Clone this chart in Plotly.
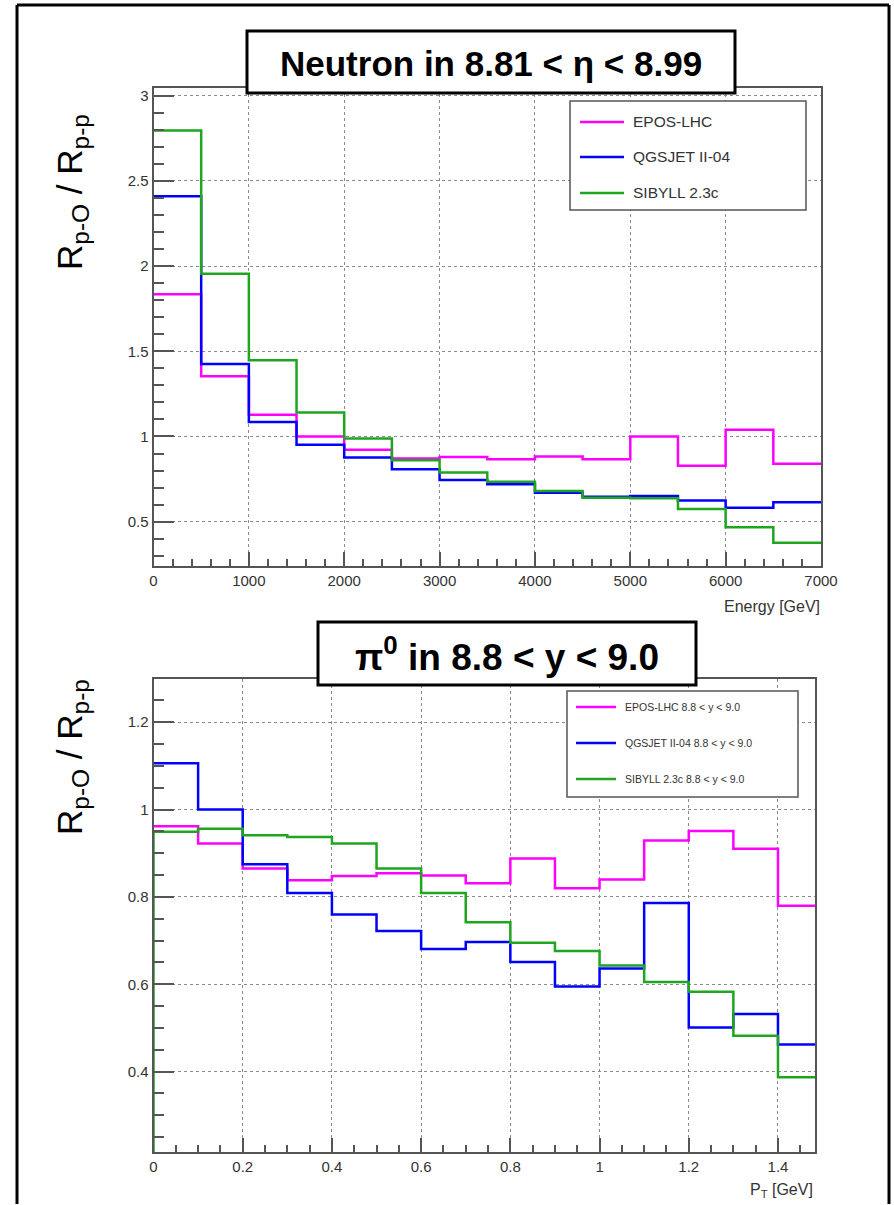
import plotly.graph_objects as go

W, H = 894, 1205

# ---------------- data ----------------
energy_edges = [0, 500, 1000, 1500, 2000, 2500, 3000, 3500, 4000, 4500, 5000, 5500, 6000, 6500, 7000]
epos_energy = [1.835, 1.353, 1.128, 1.0, 0.922, 0.871, 0.879, 0.867, 0.882, 0.867, 1.0, 0.829, 1.04, 0.84]
qgsjet_energy = [2.41, 1.426, 1.085, 0.951, 0.876, 0.808, 0.745, 0.72, 0.67, 0.647, 0.651, 0.624, 0.582, 0.614]
sibyll_energy = [2.795, 1.955, 1.447, 1.141, 0.988, 0.861, 0.788, 0.735, 0.68, 0.641, 0.638, 0.575, 0.467, 0.376]

pt_edges = [0, 0.1, 0.2, 0.3, 0.4, 0.5, 0.6, 0.7, 0.8, 0.9, 1.0, 1.1, 1.2, 1.3, 1.4, 1.5]
epos_pt = [0.962, 0.922, 0.865, 0.838, 0.848, 0.854, 0.849, 0.831, 0.888, 0.82, 0.84, 0.929, 0.951, 0.91, 0.78]
qgsjet_pt = [1.106, 1.0, 0.875, 0.809, 0.76, 0.722, 0.681, 0.697, 0.651, 0.595, 0.636, 0.786, 0.501, 0.532, 0.462]
sibyll_pt = [0.949, 0.956, 0.941, 0.937, 0.922, 0.865, 0.809, 0.742, 0.695, 0.676, 0.643, 0.605, 0.583, 0.482, 0.387]

names_top = ["EPOS-LHC", "QGSJET II-04", "SIBYLL 2.3c"]
names_bot = ["EPOS-LHC 8.8 < y < 9.0", "QGSJET II-04 8.8 < y < 9.0", "SIBYLL 2.3c 8.8 < y < 9.0"]
colors = ["#ff00ff", "#0000ff", "#1fa51f"]

# ---------------- helpers ----------------
def px(x):
    return x / W

def py(y):
    return 1 - y / H

fig = go.Figure()

def add_hist(edges, vals, color, xa, ya, from_base=None):
    xs = list(edges)
    ys = list(vals) + [vals[-1]]
    if from_base is not None:
        xs = [edges[0]] + xs
        ys = [from_base] + ys
    fig.add_trace(go.Scatter(x=xs, y=ys, mode="lines", line=dict(color=color, width=2.5, shape="hv"),
                             xaxis=xa, yaxis=ya, showlegend=False, hoverinfo="skip"))

for vals, c in zip([epos_energy, qgsjet_energy, sibyll_energy], colors):
    add_hist(energy_edges, vals, c, "x", "y")
for i, (vals, c) in enumerate(zip([epos_pt, qgsjet_pt, sibyll_pt], colors)):
    add_hist(pt_edges, vals, c, "x2", "y2", from_base=0 if i == 2 else None)

axis_col = "#555555"
tickfont = dict(family="Liberation Sans, Arial, sans-serif", size=15, color="#333333")
common = dict(showline=True, linecolor=axis_col, linewidth=2, mirror=True, ticks="inside",
              tickcolor=axis_col, tickwidth=1.5, showgrid=True, gridcolor="#8a8a8a", griddash="dot",
              gridwidth=1, zeroline=False, tickfont=tickfont, automargin=False)

fig.update_layout(
    width=W, height=H, margin=dict(l=0, r=0, t=0, b=0, autoexpand=False), autosize=False,
    paper_bgcolor="white", plot_bgcolor="white", showlegend=False,
    xaxis=dict(domain=[px(153.5), px(821)], range=[0, 7000], anchor="y", tick0=0, dtick=1000, ticklen=14,
               minor=dict(dtick=200, ticklen=7, ticks="inside", tickcolor=axis_col, showgrid=False), **common),
    yaxis=dict(domain=[py(566), py(88)], range=[0.24, 3.045], anchor="x", tick0=0, dtick=0.5, ticklen=20,
               minor=dict(dtick=0.1, ticklen=10, ticks="inside", tickcolor=axis_col, showgrid=False), **common),
    xaxis2=dict(domain=[px(153.5), px(815)], range=[0, 1.483], anchor="y2", tick0=0, dtick=0.2, ticklen=14,
                minor=dict(dtick=0.05, ticklen=7, ticks="inside", tickcolor=axis_col, showgrid=False), **common),
    yaxis2=dict(domain=[py(1152), py(678.5)], range=[0.216, 1.3], anchor="x2", tick0=0, dtick=0.2, ticklen=20,
                minor=dict(dtick=0.05, ticklen=10, ticks="inside", tickcolor=axis_col, showgrid=False), **common),
)

shapes = []
annotations = []

# outer frame (left, top, right edges; stays inside the page)
for (x0, y0, x1, y1) in [(17, 5, 17, 1204), (17, 5, 889, 5), (889, 5, 889, 1204)]:
    shapes.append(dict(type="line", xref="paper", yref="paper", x0=px(x0), x1=px(x1), y0=py(y0), y1=py(y1),
                       line=dict(color="black", width=3), layer="above"))

# legends
def legend(box, ys, x_line, x_text, names, fsize):
    x0, x1, y0, y1 = box
    shapes.append(dict(type="rect", xref="paper", yref="paper", x0=px(x0), x1=px(x1), y0=py(y1), y1=py(y0),
                       line=dict(color="#555555", width=1.5), fillcolor="white", layer="above"))
    for yy, name, c in zip(ys, names, colors):
        shapes.append(dict(type="line", xref="paper", yref="paper", x0=px(x_line[0]), x1=px(x_line[1]),
                           y0=py(yy), y1=py(yy), line=dict(color=c, width=2.5), layer="above"))
        annotations.append(dict(xref="paper", yref="paper", x=px(x_text), y=py(yy), text=name, showarrow=False,
                                xanchor="left", yanchor="middle",
                                font=dict(family="Liberation Sans, Arial, sans-serif", size=fsize, color="#333333")))

legend((570, 806, 101, 210), [122, 157, 193], (580, 624), 631, names_top, 15.5)
legend((567, 798, 691, 797), [707, 743, 779], (576, 616), 623, names_bot, 10.5)

# title boxes
def title_box(x0, x1, y0, y1, text, size):
    shapes.append(dict(type="rect", xref="paper", yref="paper", x0=px(x0), x1=px(x1), y0=py(y1), y1=py(y0),
                       line=dict(color="black", width=3), fillcolor="white", layer="above"))
    annotations.append(dict(xref="paper", yref="paper", x=px((x0 + x1) / 2), y=py((y0 + y1) / 2 + 1), text=text,
                            showarrow=False, xanchor="center", yanchor="middle",
                            font=dict(family="Liberation Sans Narrow, Arial Narrow, Liberation Sans, Arial",
                                      size=size, color="black", weight="bold")))

title_box(247, 735, 31, 93, "Neutron in 8.81 < η < 8.99", 35)
title_box(318, 696, 622, 685, "π<sup>0</sup> in 8.8 < y < 9.0", 37)

# y-axis titles
for yc in (192, 757):
    annotations.append(dict(xref="paper", yref="paper", x=px(72), y=py(yc), textangle=-90, showarrow=False,
                            text="R<sub>p-O</sub> / R<sub>p-p</sub>", xanchor="center", yanchor="middle",
                            font=dict(family="Liberation Sans, Arial, sans-serif", size=35, color="black")))

# x-axis titles
annotations.append(dict(xref="paper", yref="paper", x=px(822), y=py(606), text="Energy [GeV]", showarrow=False,
                        xanchor="right", yanchor="middle",
                        font=dict(family="Liberation Sans, Arial, sans-serif", size=16, color="#333333")))
annotations.append(dict(xref="paper", yref="paper", x=px(815), y=py(1190), text="P<sub>T</sub> [GeV]",
                        showarrow=False, xanchor="right", yanchor="middle",
                        font=dict(family="Liberation Sans, Arial, sans-serif", size=16, color="#333333")))

fig.update_layout(shapes=shapes, annotations=annotations)
fig.write_html("out.html", config={"responsive": False})
